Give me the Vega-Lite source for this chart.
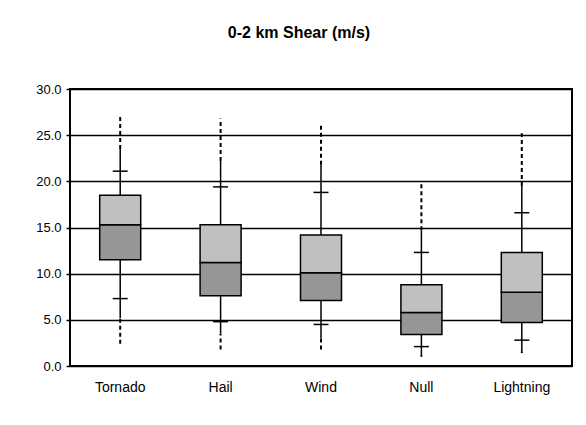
{
  "$schema": "https://vega.github.io/schema/vega-lite/v6.json",
  "autosize": "none",
  "width": 502,
  "height": 277,
  "padding": {"left": 70, "top": 89, "right": 14, "bottom": 59},
  "background": "white",
  "title": {
    "text": "0-2 km Shear (m/s)",
    "font": "Liberation Sans",
    "fontSize": 16,
    "fontWeight": "bold",
    "color": "black",
    "anchor": "middle",
    "frame": "group",
    "dx": -22,
    "offset": 42
  },
  "config": {
    "view": {"stroke": "black", "strokeWidth": 2},
    "font": "Liberation Sans"
  },
  "data": {
    "values": [
      {"cat": "Tornado", "min": 2.4, "p5": 5.2, "p10": 7.3, "q1": 11.5, "median": 15.3, "q3": 18.5, "p90": 21.1, "p95": 23.5, "max": 27.2},
      {"cat": "Hail", "min": 1.8, "p5": 3.5, "p10": 4.8, "q1": 7.6, "median": 11.2, "q3": 15.3, "p90": 19.4, "p95": 22.2, "max": 26.8},
      {"cat": "Wind", "min": 1.8, "p5": 3.0, "p10": 4.5, "q1": 7.1, "median": 10.1, "q3": 14.2, "p90": 18.8, "p95": 21.8, "max": 26.1},
      {"cat": "Null", "min": 1.0, "p5": 1.2, "p10": 2.1, "q1": 3.4, "median": 5.8, "q3": 8.8, "p90": 12.3, "p95": 14.7, "max": 19.7},
      {"cat": "Lightning", "min": 1.4, "p5": 1.6, "p10": 2.8, "q1": 4.7, "median": 8.0, "q3": 12.3, "p90": 16.6, "p95": 19.5, "max": 25.2}
    ]
  },
  "encoding": {
    "x": {
      "field": "cat",
      "type": "nominal",
      "sort": ["Tornado", "Hail", "Wind", "Null", "Lightning"],
      "scale": {"paddingInner": 0, "paddingOuter": 0},
      "axis": {
        "title": null,
        "labelAngle": 0,
        "labelFontSize": 14,
        "labelColor": "black",
        "labelPadding": 14,
        "ticks": false,
        "domain": false,
        "grid": false
      }
    }
  },
  "layer": [
    {
      "mark": {"type": "rule", "color": "black", "strokeWidth": 2, "strokeDash": [4, 3]},
      "encoding": {
        "y": {
          "field": "p95",
          "type": "quantitative",
          "scale": {"domain": [0, 30], "nice": false},
          "axis": {
            "title": null,
            "values": [0, 5, 10, 15, 20, 25, 30],
            "format": ".1f",
            "labelFontSize": 13,
            "labelColor": "black",
            "labelPadding": 5,
            "tickColor": "black",
            "tickSize": 4,
            "tickWidth": 1.5,
            "domain": false,
            "grid": true,
            "gridColor": "black",
            "gridWidth": 1.3,
            "gridOpacity": 1
          }
        },
        "y2": {"field": "max"}
      }
    },
    {
      "mark": {"type": "rule", "color": "black", "strokeWidth": 2, "strokeDash": [4, 3]},
      "encoding": {
        "y": {"field": "min", "type": "quantitative"},
        "y2": {"field": "p5"}
      }
    },
    {
      "mark": {"type": "rule", "color": "black", "strokeWidth": 1.5},
      "encoding": {
        "y": {"field": "q3", "type": "quantitative"},
        "y2": {"field": "p95"}
      }
    },
    {
      "mark": {"type": "rule", "color": "black", "strokeWidth": 1.5},
      "encoding": {
        "y": {"field": "p5", "type": "quantitative"},
        "y2": {"field": "q1"}
      }
    },
    {
      "mark": {"type": "tick", "color": "black", "size": 15, "thickness": 1.5, "opacity": 1},
      "encoding": {"y": {"field": "p90", "type": "quantitative"}}
    },
    {
      "mark": {"type": "tick", "color": "black", "size": 15, "thickness": 1.5, "opacity": 1},
      "encoding": {"y": {"field": "p10", "type": "quantitative"}}
    },
    {
      "mark": {"type": "bar", "size": 41, "fill": "#969696", "stroke": "black", "strokeWidth": 1.5},
      "encoding": {
        "y": {"field": "q1", "type": "quantitative"},
        "y2": {"field": "median"}
      }
    },
    {
      "mark": {"type": "bar", "size": 41, "fill": "#C0C0C0", "stroke": "black", "strokeWidth": 1.5},
      "encoding": {
        "y": {"field": "median", "type": "quantitative"},
        "y2": {"field": "q3"}
      }
    }
  ]
}
